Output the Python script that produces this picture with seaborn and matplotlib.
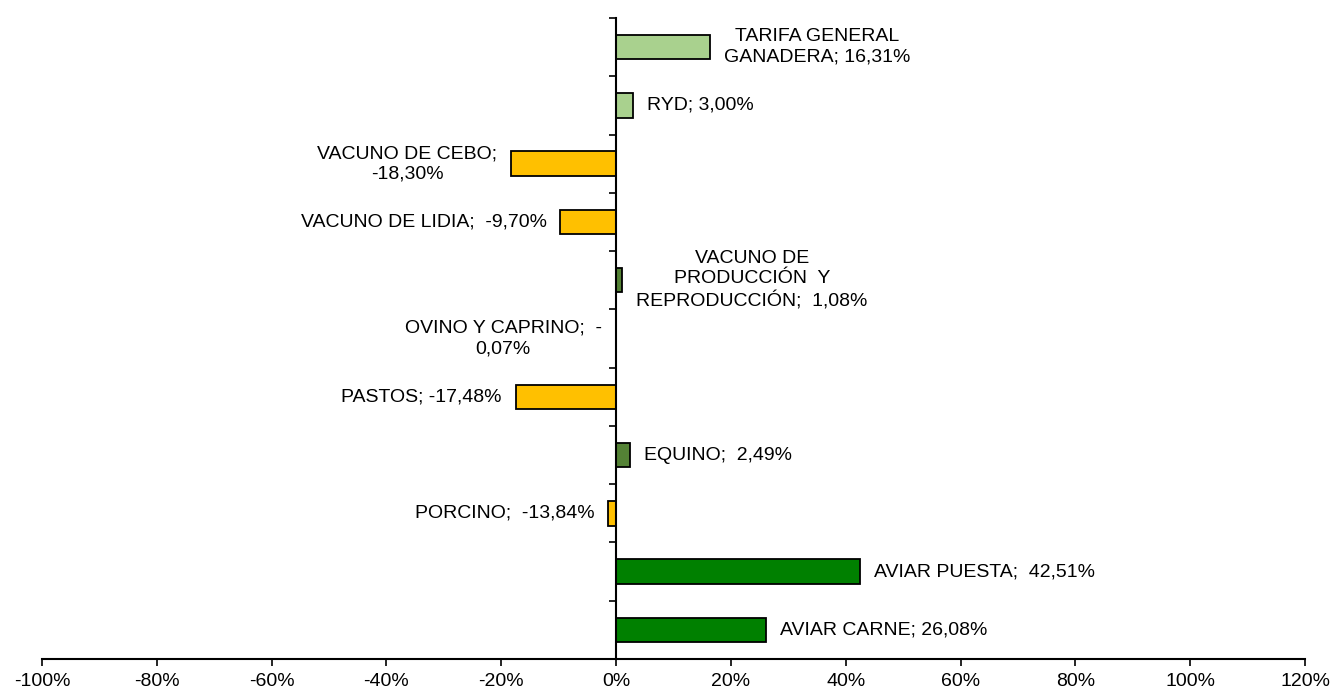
import numpy as np
import pandas as pd
import matplotlib
matplotlib.use("Agg")
import matplotlib.pyplot as plt
import seaborn as sns

# data
categories = ["TARIFA GENERAL GANADERA", "RYD", "VACUNO DE CEBO", "VACUNO DE LIDIA",
              "VACUNO DE PRODUCCIÓN Y REPRODUCCIÓN", "OVINO Y CAPRINO", "PASTOS",
              "EQUINO", "PORCINO", "AVIAR PUESTA", "AVIAR CARNE"]
values = [16.31, 3.00, -18.30, -9.70, 1.08, -0.07, -17.48, 2.49, -1.38, 42.51, 26.08]
labels = ["TARIFA GENERAL\nGANADERA; 16,31%", "RYD; 3,00%", "VACUNO DE CEBO;\n-18,30%",
          "VACUNO DE LIDIA;  -9,70%", "VACUNO DE\nPRODUCCIÓN  Y\nREPRODUCCIÓN;  1,08%",
          "OVINO Y CAPRINO;  -\n0,07%", "PASTOS; -17,48%", "EQUINO;  2,49%",
          "PORCINO;  -13,84%", "AVIAR PUESTA;  42,51%", "AVIAR CARNE; 26,08%"]
colors = ["#A9D18E", "#A9D18E", "#FFC000", "#FFC000", "#548235", "#FFC000",
          "#FFC000", "#548235", "#FFC000", "#008000", "#008000"]
xticks = [-100, -80, -60, -40, -20, 0, 20, 40, 60, 80, 100, 120]

df = pd.DataFrame({"cat": categories, "val": values})

sns.set_style("white")
plt.rcParams["font.family"] = ["Liberation Sans", "DejaVu Sans"]

fig = plt.figure(figsize=(13.33, 6.91), dpi=100)
ax = fig.add_axes([0.0315, 0.0463, 0.9475, 0.9277])

sns.barplot(data=df, x="val", y="cat", hue="cat", palette=colors, legend=False,
            orient="h", width=0.42, edgecolor="black", linewidth=1.3,
            saturation=1, ax=ax)

ax.set_xlim(-100, 120)
ax.set_ylim(10.5, -0.5)
ax.set_xticks(xticks)
ax.set_xticklabels([f"{v}%" for v in xticks], fontsize=14)
ax.set_yticks(np.arange(-0.5, 11, 1))
ax.set_yticklabels([])
ax.set_xlabel("")
ax.set_ylabel("")

for s in ["top", "right"]:
    ax.spines[s].set_visible(False)
ax.spines["left"].set_position(("data", 0))
ax.spines["left"].set_linewidth(1.5)
ax.spines["bottom"].set_linewidth(1.5)
ax.spines["left"].set_color("black")
ax.spines["bottom"].set_color("black")
ax.tick_params(axis="x", bottom=True, direction="out", length=5, width=1.2, pad=5,
               colors="black")
ax.tick_params(axis="y", left=True, direction="out", length=5, width=1.2,
               colors="black")

# data labels, Excel style: "CATEGORIA; valor"
for i, (v, lab) in enumerate(zip(values, labels)):
    off = 10 if v >= 0 else -10
    ax.annotate(lab, xy=(v, i), xytext=(off, 0), textcoords="offset points",
                ha="left" if v >= 0 else "right", va="center",
                multialignment="center", linespacing=1.25,
                fontsize=14, color="black")

fig.savefig("out.png", dpi=100)
